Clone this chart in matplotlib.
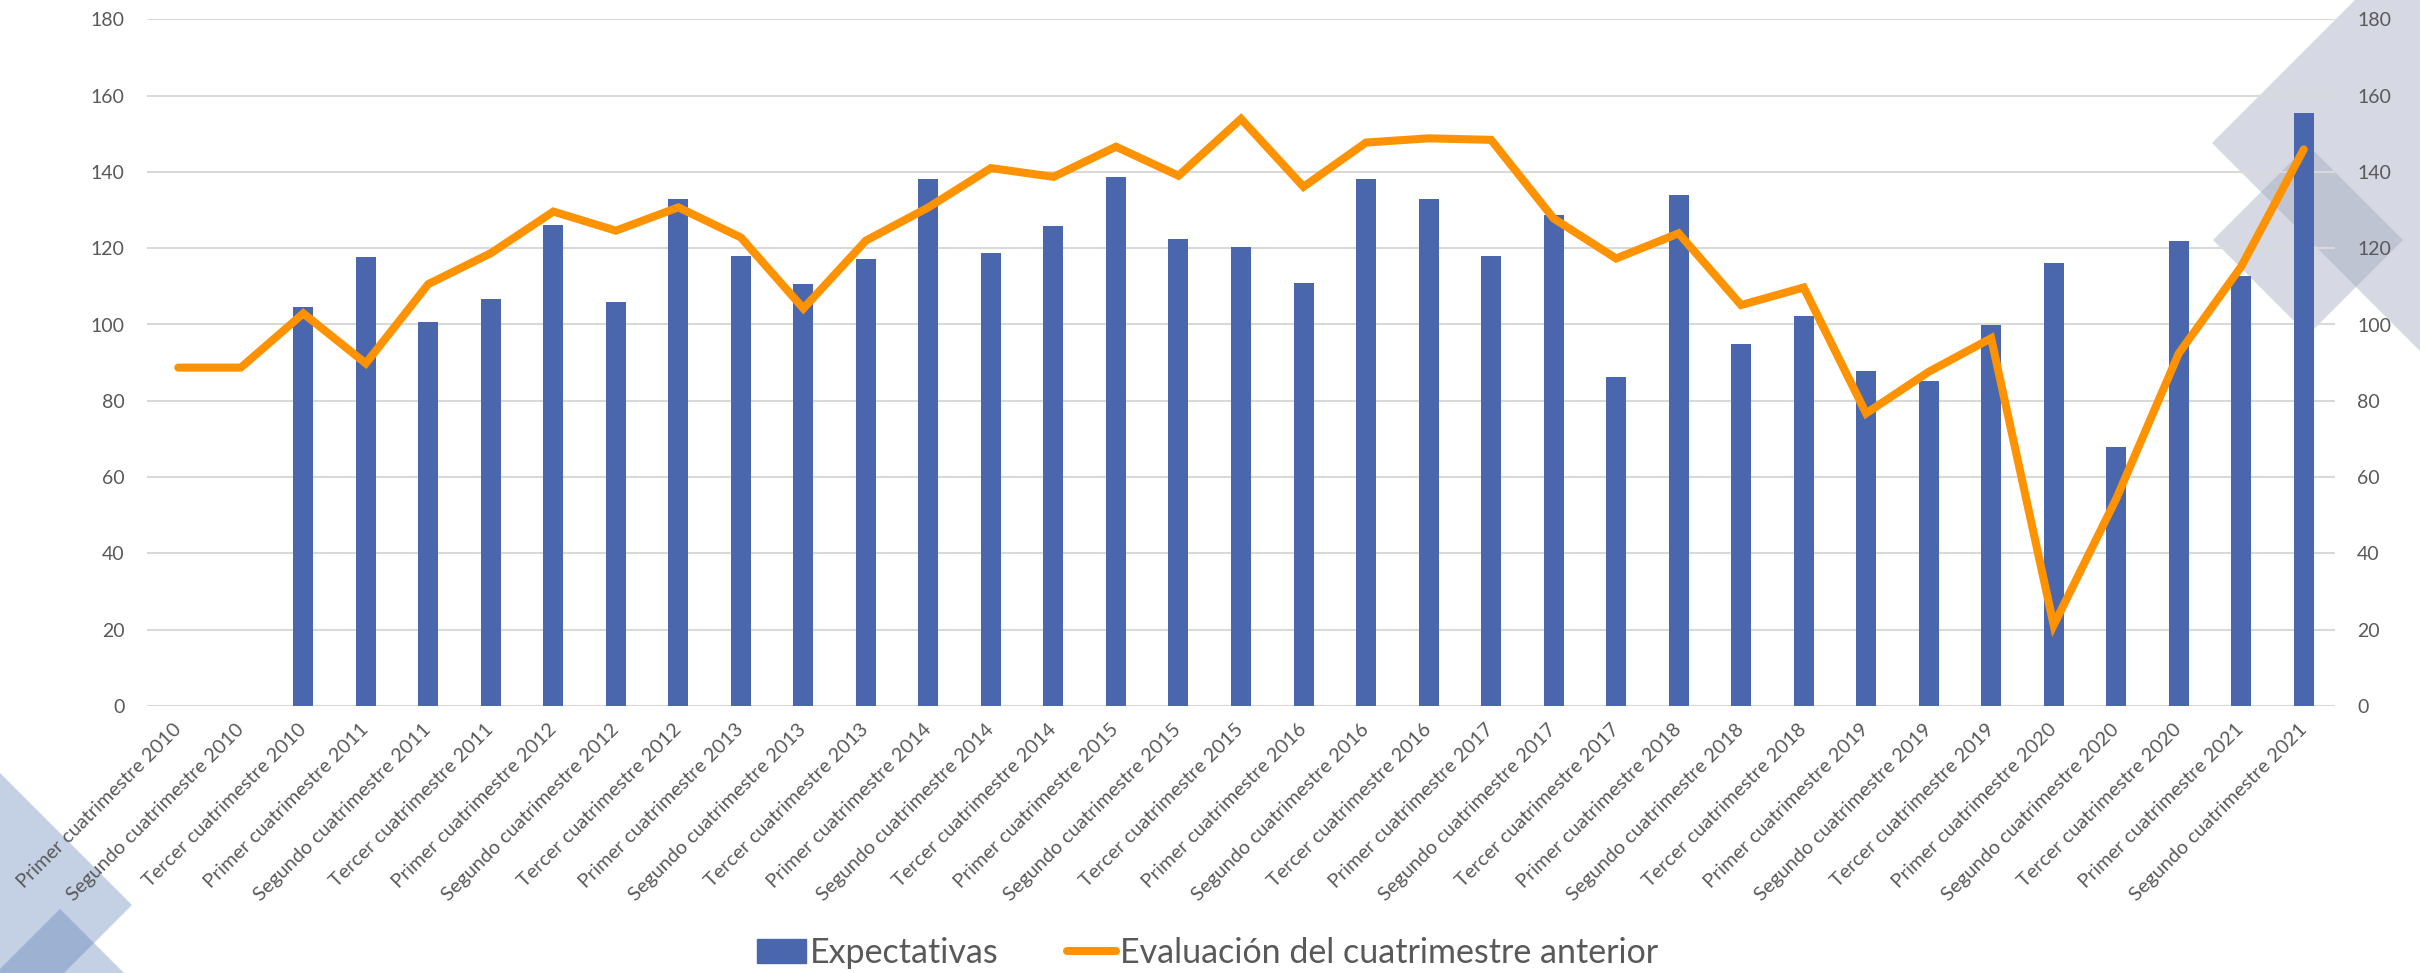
import numpy as np
import matplotlib.pyplot as plt
from matplotlib.patches import Polygon
from matplotlib.lines import Line2D
from matplotlib.patches import Patch

# 0. Data
periodos = ["Primer", "Segundo", "Tercer"]
anios = list(range(2010, 2022))
categorias = [p + " cuatrimestre " + str(a) for a in anios for p in periodos][:35]

expectativas = [np.nan, np.nan, 104.5, 117.8, 100.7, 106.6, 126.1, 106.0, 133.0,
                118.0, 110.5, 117.1, 138.1, 118.7, 125.9, 138.7, 122.4, 120.4,
                110.9, 138.1, 133.0, 117.9, 128.8, 86.3, 133.9, 94.9, 102.2,
                87.8, 85.2, 99.8, 116.0, 67.8, 122.0, 112.7, 155.5]

evaluacion = [88.7, 88.7, 102.9, 89.8, 110.6, 118.7, 129.6, 124.6, 130.7,
              122.8, 104.2, 122.0, 130.7, 141.0, 138.7, 146.6, 139.0, 153.9,
              136.1, 147.7, 148.8, 148.4, 127.8, 117.3, 123.9, 105.1, 109.7,
              76.7, 87.6, 96.4, 21.2, 54.3, 92.4, 115.2, 145.9]

yticks = list(range(0, 181, 20))

azul = "#4A66AC"
naranja = "#FF9200"
gris_txt = "#595959"
plt.rcParams['font.family'] = ['Lato', 'DejaVu Sans']

W, H = 2420, 973
fig = plt.figure(figsize=(W / 100, H / 100), dpi=100)


def px(x, y):
    return (x / W, 1 - y / H)


# decoraciones de fondo
def rombo(cx, cy, r, color, alpha):
    pts = [px(cx - r, cy), px(cx, cy - r), px(cx + r, cy), px(cx, cy + r)]
    fig.add_artist(Polygon(pts, closed=True, transform=fig.transFigure,
                           facecolor=color, alpha=alpha, edgecolor='none', zorder=-5))


rombo(2212 + 400, 143, 400, "#a2a9be", 0.43)
rombo(2308, 240, 95, "#a2a9be", 0.43)
rombo(132 - 400, 905, 400, "#4e72ae", 0.33)
rombo(60, 909 + 300, 300, "#4e72ae", 0.33)

# 1. Ejes
ax = fig.add_axes([147 / W, 1 - 706 / H, (2335 - 147) / W, (706 - 19.3) / H])
ax.patch.set_alpha(0)
ax2 = ax.twinx()

x = np.arange(len(categorias))
ax.bar(x, expectativas, width=0.32, color=azul, zorder=2)
ax2.plot(x, evaluacion, color=naranja, lw=5.8, solid_capstyle='round',
         solid_joinstyle='miter', zorder=3)

for a in (ax, ax2):
    a.set_ylim(0, 180)
    a.set_yticks(yticks)
    a.tick_params(axis='y', length=0, pad=16, labelsize=14, labelcolor=gris_txt)
    for s in a.spines.values():
        s.set_visible(False)

ax.set_xlim(-0.5, len(categorias) - 0.5)
ax.set_xticks(x)
ax.set_xticklabels(categorias, rotation=45, ha='right', va='center',
                   rotation_mode='anchor', fontsize=14.3, color=gris_txt)
ax.tick_params(axis='x', length=0, pad=15)
ax.set_axisbelow(True)
ax.grid(True, axis='y', color='#d9d9d9', lw=1.5)

# 2. Leyenda
handles = [Patch(color=azul, label='Expectativas'),
           Line2D([0], [0], color=naranja, lw=5.8, solid_capstyle='round',
                  label='Evaluación del cuatrimestre anterior')]
fig.legend(handles=handles, loc='center', bbox_to_anchor=(0.499, 0.021),
           ncol=2, frameon=False, fontsize=24.5, handlelength=1.45,
           handletextpad=0.12, columnspacing=2.0, labelcolor=gris_txt)

fig.savefig("out.png", dpi=100)
